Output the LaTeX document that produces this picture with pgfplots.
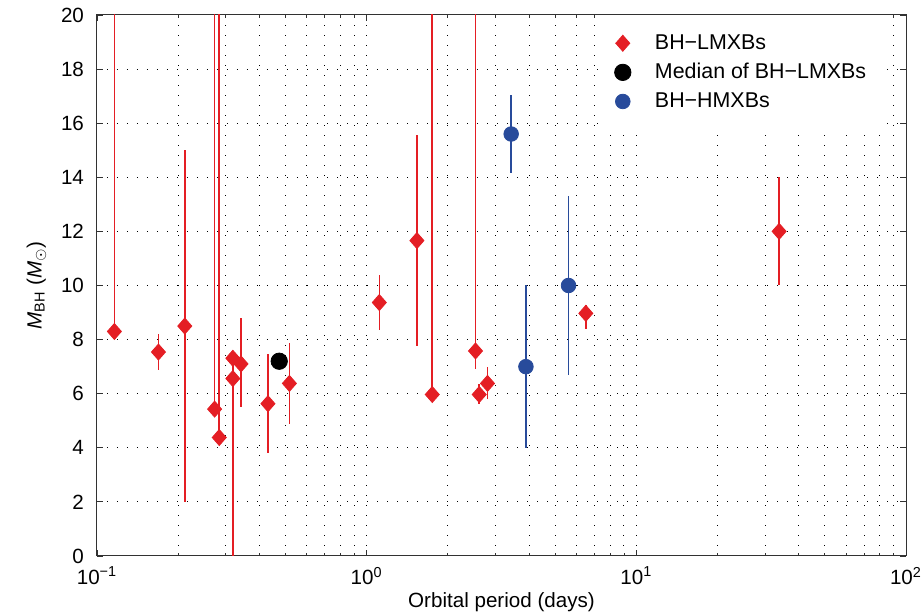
\documentclass[border=0pt]{standalone}
\usepackage{pgfplots}
\pgfplotsset{compat=1.18}
\usepackage{fontspec}
\setmainfont{Liberation Sans}
\definecolor{bhred}{RGB}{228,30,36}
\definecolor{bhblue}{RGB}{40,75,155}
\definecolor{axgray}{RGB}{50,50,50}
\begin{document}
\begin{tikzpicture}[font=\fontsize{10.3}{12}\selectfont]
\begin{axis}[
  scale only axis, width=404.5pt, height=270.5pt,
  xmode=log, xmin=0.1, xmax=100, ymin=0, ymax=20,
  xtick={0.1,1,10,100},
  xticklabels={10\textsuperscript{−1},10\textsuperscript{0},10\textsuperscript{1},10\textsuperscript{2}},
  ytick={0,2,...,20},
  /pgf/number format/assume math mode=true,
  yticklabel style={xshift=-3pt},
  xticklabel style={yshift=-2pt},
  tick align=inside,
  major tick length=3pt, minor tick length=1.6pt,
  axis line style={axgray, line width=0.5pt},
  every tick/.style={axgray, line width=0.4pt},
  grid=both,
  major grid style={black, line width=0.5pt, dash pattern=on 0.6pt off 4.4pt},
  minor grid style={black, line width=0.5pt, dash pattern=on 0.6pt off 4.4pt},
  xlabel={Orbital period (days)},
  ylabel={\textit{M}\textsubscript{BH} (\textit{M}\textsubscript{$\odot$})},
  xlabel style={yshift=3pt},
  ylabel style={yshift=0.5pt},
  legend cell align=left,
  legend style={at={(rel axis cs:0.622,1)}, anchor=north west, draw=none, fill=white,
    inner xsep=7pt, inner ysep=7.5pt, row sep=1.5pt, font=\fontsize{10.7}{12}\selectfont},
]
\coordinate (sw) at (rel axis cs:0,0);
\coordinate (ne) at (rel axis cs:1,1);
% BH-LMXBs
\addplot[only marks, mark=diamond*, mark size=4pt, mark options={xscale=1.17}, color=bhred,
  error bars/.cd, y dir=both, y explicit, error mark=none, error bar style={bhred, line width=0.8pt}]
  table[x=x, y=y, y error plus=ep, y error minus=em] {
x      y     ep     em
0.116  8.30  20.0   0.0
0.169  7.54  0.65   0.65
0.2116 8.50  6.5    6.5
0.273  5.43  20.0   0.0
0.284  4.38  20.0   0.0
0.319  7.31  0.0    0.0
0.319  6.56  0.75   6.56
0.342  7.10  1.68   1.60
0.4305 5.63  1.84   1.83
0.517  6.38  1.50   1.50
1.114  9.37  1.00   1.00
1.536  11.66 3.90   3.90
1.751  5.97  20.0   0.0
2.533  7.58  20.0   0.68
2.614  5.97  0.38   0.36
2.806  6.38  0.60   0.57
6.496  8.97  0.30   0.58
33.85  12.0  2.0    2.0
};
\addlegendentry{\hspace{10pt}BH−LMXBs}
% Median
\addplot[only marks, mark=*, mark size=4.1pt, color=black] coordinates {(0.474,7.20)};
\addlegendentry{\hspace{10pt}Median of BH−LMXBs}
% BH-HMXBs
\addplot[only marks, mark=*, mark size=3.65pt, color=bhblue,
  error bars/.cd, y dir=both, y explicit, error mark=none, error bar style={bhblue, line width=0.8pt}]
  table[x=x, y=y, y error plus=ep, y error minus=em] {
x      y     ep    em
3.435  15.6  1.45  1.45
3.896  7.0   3.0   3.0
5.605  10.0  3.3   3.3
};
\addlegendentry{\hspace{10pt}BH−HMXBs}
\end{axis}
\pgfresetboundingbox
\path ([shift={(-48.5pt,-28.5pt)}]sw) rectangle ([shift={(9pt,7.5pt)}]ne);
\end{tikzpicture}
\end{document}
